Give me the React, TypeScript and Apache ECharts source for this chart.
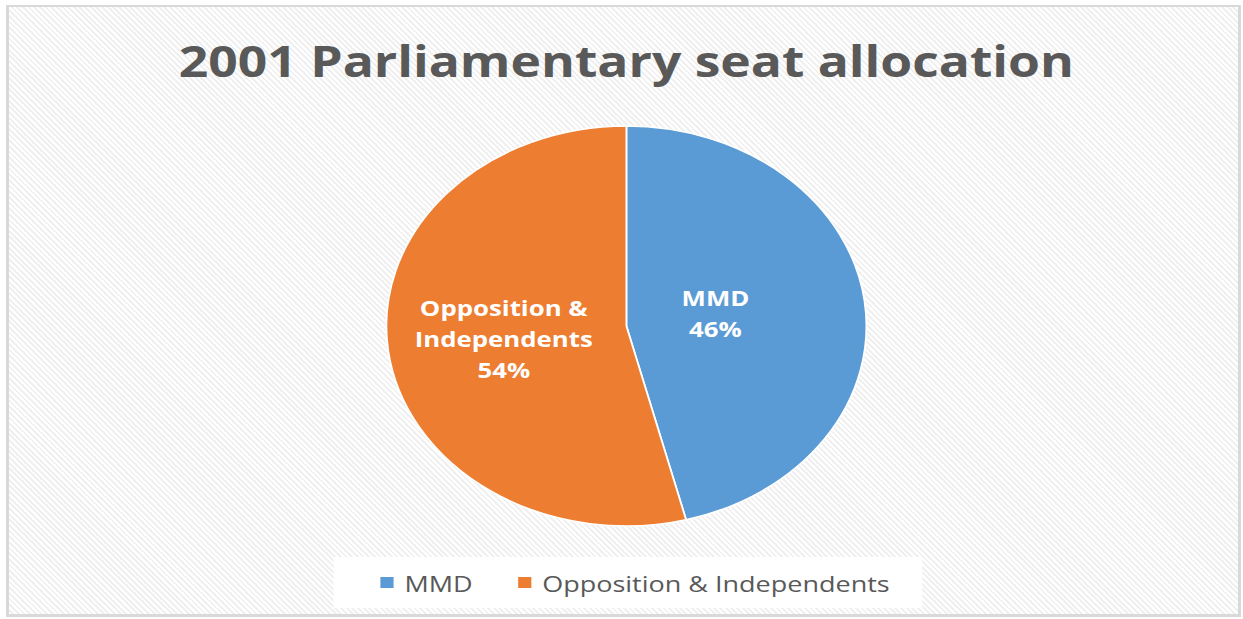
import React, { useEffect, useRef } from "react";
import * as echarts from "echarts";

const TITLE = "2001 Parliamentary seat allocation";
const categories = ["MMD", "Opposition & Independents"];
const seats = [69, 81];
const colors = ["#5B9BD5", "#ED7D31"];

const STRETCH = 1.2;

export default function App() {
  const ref = useRef<HTMLDivElement>(null);

  useEffect(() => {
    document.body.style.margin = "0";
    const chart = echarts.init(ref.current!, null, { renderer: "svg" });
    const data = categories.map((name, i) => ({
      name,
      value: seats[i],
      itemStyle: { color: colors[i] },
      label: i === 0 ? { padding: [0, 56, 0, 0] } : {},
    }));
    chart.setOption({
      animation: false,
      backgroundColor: "transparent",
      title: {
        text: TITLE,
        left: "center",
        top: 34,
        textStyle: {
          fontFamily: "Open Sans",
          fontWeight: "bold",
          fontSize: 43,
          color: "#595959",
        },
      },
      legend: {
        data: categories,
        top: 557,
        left: 278,
        orient: "horizontal",
        backgroundColor: "#ffffff",
        padding: [14, 27, 14, 37],
        itemWidth: 13,
        itemHeight: 13,
        itemGap: 36,
        icon: "rect",
        selectedMode: false,
        textStyle: {
          fontFamily: "Open Sans",
          fontSize: 22.5,
          color: "#595959",
          padding: [0, 0, 0, 3],
        },
      },
      series: [
        {
          type: "pie",
          center: [522, 326],
          radius: 200,
          startAngle: 90,
          clockwise: true,
          percentPrecision: 0,
          silent: true,
          itemStyle: { borderColor: "#ffffff", borderWidth: 1.5 },
          label: {
            show: true,
            position: "inside",
            color: "#ffffff",
            fontFamily: "Open Sans",
            fontWeight: "bold",
            fontSize: 21.5,
            lineHeight: 31,
            formatter: (p: any) =>
              p.name.replace("& ", "&\n") + "\n" + p.percent + "%",
          },
          labelLine: { show: false },
          emphasis: { disabled: true },
          data,
        },
      ],
    });
    return () => chart.dispose();
  }, []);

  return (
    <div
      style={{
        position: "absolute",
        left: 0,
        top: 0,
        width: 1243,
        height: 619,
        overflow: "hidden",
        background: "#ffffff",
      }}
    >
      <div
        style={{
          position: "absolute",
          left: 6,
          top: 5,
          width: 1235,
          height: 612,
          boxSizing: "border-box",
          border: "3px solid #d9d9d9",
          borderTopWidth: 2,
          background:
            "repeating-linear-gradient(45deg, #ffffff 0px, #ffffff 2px, #f0f0f0 2px, #f0f0f0 4px)",
        }}
      />
      <div
        ref={ref}
        style={{
          position: "absolute",
          left: 0,
          top: 0,
          width: 1044,
          height: 619,
          transform: `scaleX(${STRETCH})`,
          transformOrigin: "0 0",
        }}
      />
    </div>
  );
}
